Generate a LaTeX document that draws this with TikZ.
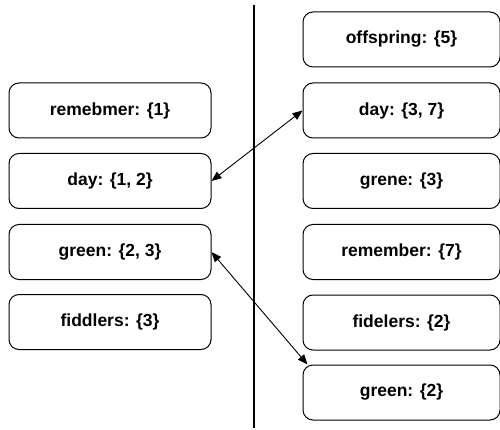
\documentclass[tikz,border=0pt]{standalone}
\usepackage{fontspec}
\setmainfont{Liberation Sans}
\usetikzlibrary{arrows.meta}
\begin{document}
\begin{tikzpicture}[x=1pt,y=-1pt,
  wbox/.style={draw=black, line width=1pt, rounded corners=10pt, minimum width=#1, minimum height=55pt, inner sep=0pt, font=\fontsize{17.5pt}{20pt}\selectfont\bfseries},
  wbox/.default=202pt,
  link/.style={line width=0.9pt, {Triangle[length=10pt,width=8pt]}-{Triangle[length=10pt,width=8pt]}}]
\useasboundingbox (0,0) rectangle (500,430);
% left boxes
\node[wbox] (l1) at (110,110.5) {remebmer: \{1\}};
\node[wbox] (l2) at (110,181) {day: \{1, 2\}};
\node[wbox] (l3) at (110,252) {green: \{2, 3\}};
\node[wbox] (l4) at (110,322) {fiddlers: \{3\}};
% right boxes
\node[wbox=197pt] (r1) at (401.5,39.5) {offspring: \{5\}};
\node[wbox=197pt] (r2) at (401.5,110.5) {day: \{3, 7\}};
\node[wbox=197pt] (r3) at (401.5,181) {grene: \{3\}};
\node[wbox=197pt] (r4) at (401.5,252) {remember: \{7\}};
\node[wbox=197pt] (r5) at (401.5,322.5) {fidelers: \{2\}};
\node[wbox=197pt] (r6) at (401.5,392.5) {green: \{2\}};
% divider
\coordinate (dt) at (254,5);
\coordinate (db) at (254,428);
\draw[line width=2pt] (dt) -- (db);
% links
\draw[link] (l2.east) -- (r2.west);
\draw[link] (l3.east) -- ([xshift=5pt]r6.north west);
\end{tikzpicture}
\end{document}
